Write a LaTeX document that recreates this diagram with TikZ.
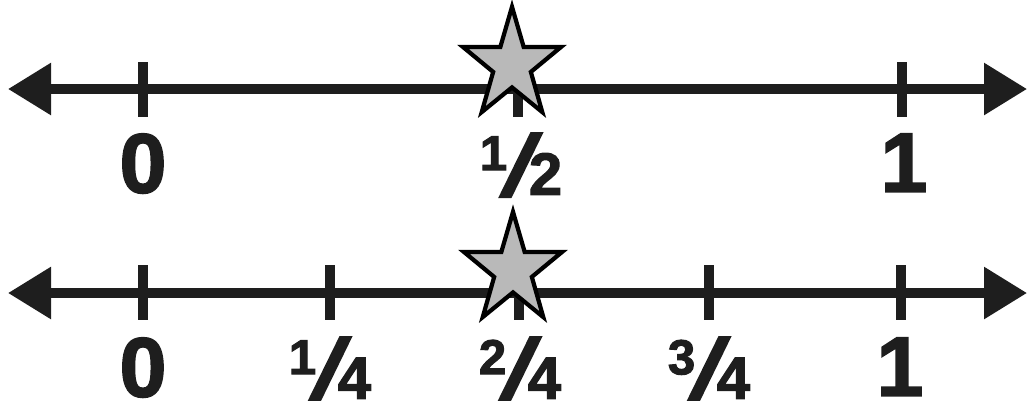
\documentclass[tikz,border=0pt]{standalone}
\usepackage{fontspec}
\usetikzlibrary{shapes.geometric, arrows.meta, positioning}
\newfontfamily\numfont{Liberation Sans}[FakeBold=2]
\newfontfamily\slashfont{Liberation Sans}[FakeBold=3.5, FakeSlant=0.3]
\definecolor{nlink}{HTML}{1E1E1E}
\definecolor{nlstar}{HTML}{B9B9B9}
\newcommand{\frc}[2]{\raisebox{7pt}{\fontsize{14}{14}\selectfont #1}\kern-2pt{\slashfont\bfseries\fontsize{24}{24}\selectfont /}\kern1.5pt{\fontsize{17}{17}\selectfont #2}}
\tikzset{
  numline/.style={draw=nlink, line width=2.6pt,
              {Triangle[length=4.3mm, width=5mm]}-{Triangle[length=4.3mm, width=5mm]}},
  tickmark/.style={draw=nlink, line width=2.6pt},
  numlbl/.style={anchor=north, inner sep=0pt, text=nlink,
              font=\numfont\bfseries\fontsize{24}{24}\selectfont},
  markstar/.style={star, star points=5, star point ratio=2.6, draw=black, fill=nlstar,
              line width=1.2pt, minimum size=10.3mm, inner sep=0pt, yscale=1.13, transform shape},
}

\begin{document}
\begin{tikzpicture}[x=0.1mm, y=-0.1mm]
      \useasboundingbox (0,0) rectangle (1028,400);
      % top line: halves
      \coordinate (topL) at (8,89);
      \coordinate (topR) at (1027,89);
      \draw[numline] (topL) -- (topR);
      \foreach \x/\nm in {143/zero, 518/half, 902/one} {
        \coordinate (top-\nm-up) at (\x,62);
        \coordinate (top-\nm-dn) at (\x,117);
        \draw[tickmark] (top-\nm-up) -- (top-\nm-dn);
      }
      \node[numlbl] (topzero) at (143,133) {0};
      \node[numlbl] (tophalf) at (521,133) {\frc{1}{2}};
      \node[numlbl] (topone) at (904,133) {1};
      \node[markstar] (topstar) at (512,65) {};
      % bottom line: quarters
      \coordinate (botL) at (8,293);
      \coordinate (botR) at (1027,293);
      \draw[numline] (botL) -- (botR);
      \foreach \x/\nm in {143/zero, 330/one, 519/two, 709/three, 901/four} {
        \coordinate (bot-\nm-up) at (\x,265);
        \coordinate (bot-\nm-dn) at (\x,320);
        \draw[tickmark] (bot-\nm-up) -- (bot-\nm-dn);
      }
      \node[numlbl] (botzero) at (143,337) {0};
      \node[numlbl] (botone) at (330,337) {\frc{1}{4}};
      \node[numlbl] (bottwo) at (520,337) {\frc{2}{4}};
      \node[numlbl] (botthree) at (709,337) {\frc{3}{4}};
      \node[numlbl] (botfour) at (900,337) {1};
      \node[markstar] (botstar) at (513,270) {};
    \end{tikzpicture}
\end{document}
